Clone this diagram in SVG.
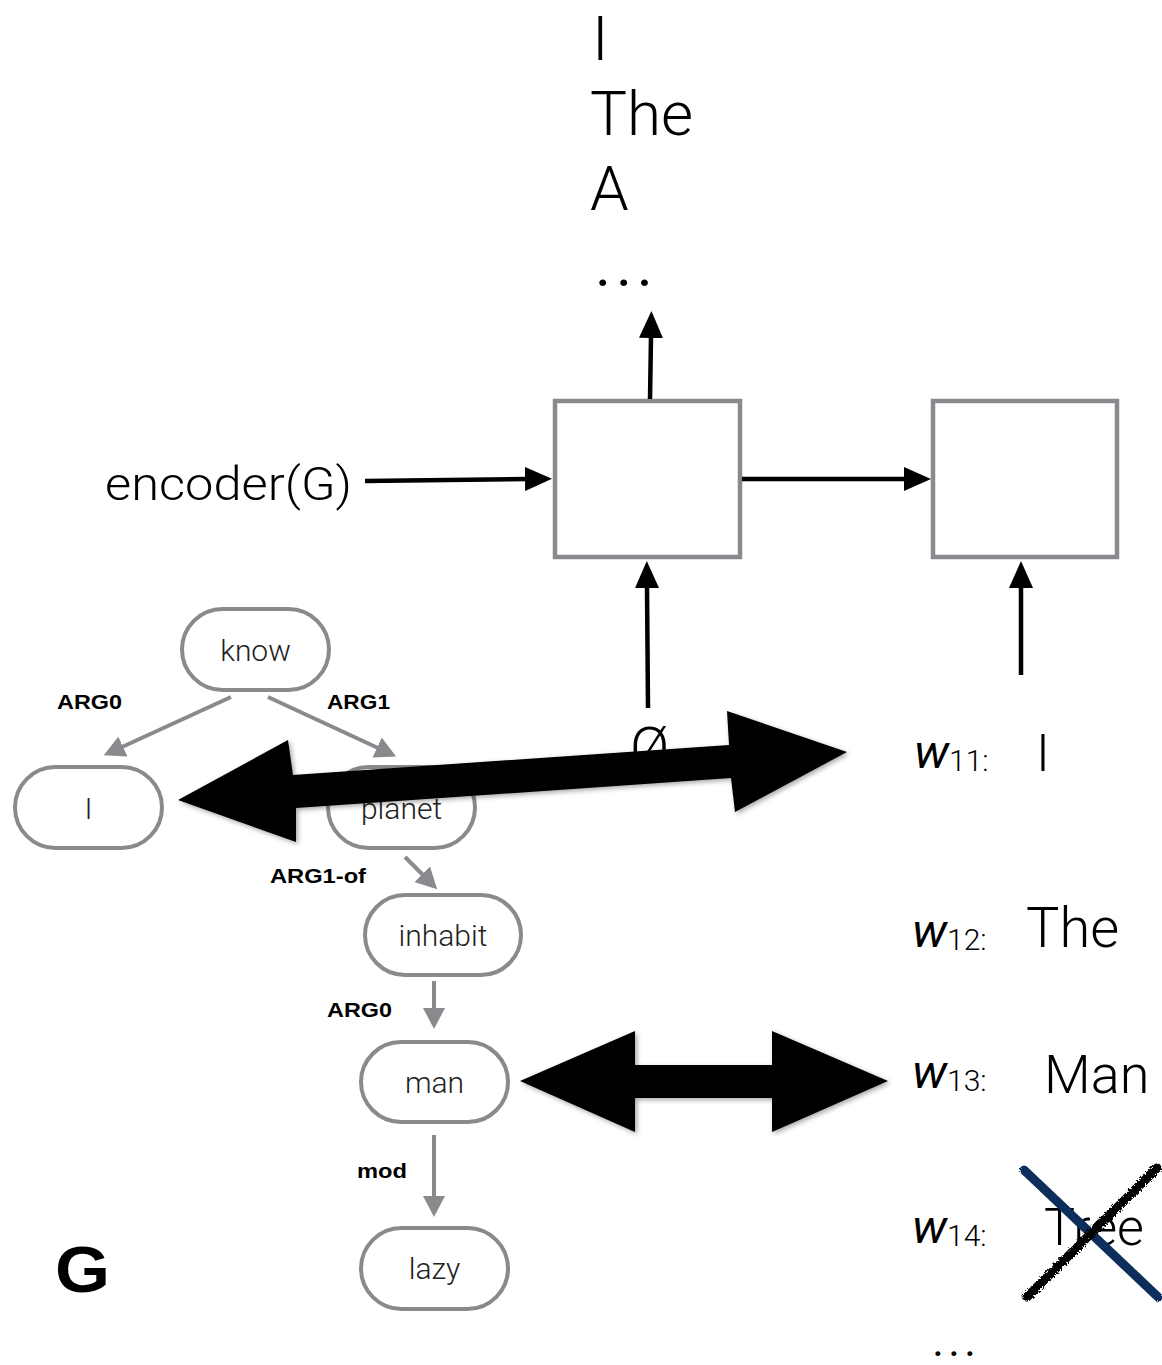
<svg xmlns="http://www.w3.org/2000/svg" width="1162" height="1365" viewBox="0 0 1162 1365">
<style>
.lt{font-family:Roboto,"Liberation Sans",sans-serif;font-weight:300;fill:#000}
.dots{font-family:Roboto,"Liberation Sans",sans-serif;font-weight:500;fill:#000}
.nd rect{fill:#fff;stroke:#888a8e;stroke-width:4}
.nd text{font-family:Roboto,"Liberation Sans",sans-serif;font-weight:300;font-size:30px;fill:#222;text-anchor:middle}
.box{fill:#fff;stroke:#888a8e;stroke-width:4.5}
.lbl{font-family:"Liberation Sans",Arial,sans-serif;font-weight:bold;font-size:21px;fill:#000}
.ge{stroke:#888a8e;stroke-width:4;fill:none}
.be{stroke:#000;stroke-width:4.5;fill:none}
.w{font-family:Roboto,"Liberation Sans",sans-serif;font-style:italic;font-size:48px;fill:#000}
.sub{font-family:Roboto,"Liberation Sans",sans-serif;font-weight:300;font-style:normal;font-size:30px}
</style>
<defs>
<marker id="ba" markerWidth="27" markerHeight="24" refX="1" refY="12" orient="auto" markerUnits="userSpaceOnUse"><path d="M0,0 L27,12 L0,24 z" fill="#000"/></marker>
<marker id="ga" markerWidth="21" markerHeight="22" refX="1" refY="11" orient="auto" markerUnits="userSpaceOnUse"><path d="M0,0 L21,11 L0,22 z" fill="#888a8e"/></marker>
<filter id="sh" x="-10%" y="-30%" width="120%" height="160%"><feDropShadow dx="2" dy="2" stdDeviation="2.5" flood-color="#000" flood-opacity="0.35"/></filter>
<filter id="rough" x="-10%" y="-10%" width="120%" height="120%"><feTurbulence type="fractalNoise" baseFrequency="0.6" numOctaves="2" seed="3"/><feDisplacementMap in="SourceGraphic" scale="5"/></filter>
</defs>

<g id="output-words">
<text class="lt" x="592" y="60" font-size="62">I</text>
<text class="lt" x="590" y="135" font-size="62">The</text>
<text class="lt" x="590" y="210" font-size="62">A</text>
<text class="dots" x="596" y="286" font-size="50" letter-spacing="7">...</text>
</g>

<g id="encoder-label"><text class="lt" x="105" y="500" font-size="46" textLength="247" lengthAdjust="spacingAndGlyphs">encoder(G)</text></g>

<g id="cell1"><rect class="box" x="555" y="401" width="185" height="156"/></g>
<g id="cell2"><rect class="box" x="933" y="401" width="184" height="156"/></g>

<g id="empty-symbol"><text class="lt" x="630" y="768" font-size="58">Ø</text></g>

<g id="node-know" class="nd"><rect x="182" y="609" width="147" height="81" rx="40.5"/><text x="255.5" y="661">know</text></g>
<g id="node-I" class="nd"><rect x="15" y="767" width="147" height="81" rx="40.5"/><text x="88.5" y="819">I</text></g>
<g id="node-planet" class="nd"><rect x="328" y="767" width="147" height="81" rx="40.5"/><text x="401.5" y="819">planet</text></g>
<g id="node-inhabit" class="nd"><rect x="365" y="895" width="156" height="80" rx="40"/><text x="443" y="946">inhabit</text></g>
<g id="node-man" class="nd"><rect x="361" y="1042" width="147" height="80" rx="40"/><text x="434.5" y="1093">man</text></g>
<g id="node-lazy" class="nd"><rect x="361" y="1228" width="147" height="81" rx="40.5"/><text x="434.5" y="1279">lazy</text></g>

<g id="edge-labels">
<text class="lbl" x="57" y="709" textLength="65" lengthAdjust="spacingAndGlyphs">ARG0</text>
<text class="lbl" x="327" y="709" textLength="63" lengthAdjust="spacingAndGlyphs">ARG1</text>
<text class="lbl" x="270" y="883" textLength="96" lengthAdjust="spacingAndGlyphs">ARG1-of</text>
<text class="lbl" x="327" y="1017" textLength="65" lengthAdjust="spacingAndGlyphs">ARG0</text>
<text class="lbl" x="357" y="1178" textLength="50" lengthAdjust="spacingAndGlyphs">mod</text>
</g>

<g id="graph-label"><text x="55" y="1292" font-family="'Liberation Sans',Arial,sans-serif" font-weight="bold" font-size="65" textLength="55" lengthAdjust="spacingAndGlyphs">G</text></g>

<g id="words">
<text class="w" x="914" y="768">w<tspan class="sub" dy="3">11:</tspan></text>
<text class="lt" x="1036" y="771" font-size="52">I</text>
<text class="w" x="912" y="947">w<tspan class="sub" dy="3">12:</tspan></text>
<text class="lt" x="1026" y="947" font-size="56">The</text>
<text class="w" x="912" y="1088">w<tspan class="sub" dy="3">13:</tspan></text>
<text class="lt" x="1044" y="1093" font-size="54">Man</text>
<text class="w" x="912" y="1243">w<tspan class="sub" dy="3">14:</tspan></text>
<text class="lt" x="1044" y="1245" font-size="52">Tree</text>
<text class="dots" x="933" y="1356" font-size="36" letter-spacing="6">...</text>
</g>

<g id="connectors">
<line class="ge" x1="231" y1="697" x2="122" y2="747" marker-end="url(#ga)"/>
<line class="ge" x1="268" y1="697" x2="378" y2="748" marker-end="url(#ga)"/>
<line class="ge" x1="405" y1="857" x2="423" y2="875" marker-end="url(#ga)"/>
<line class="ge" x1="434" y1="981" x2="434" y2="1009" marker-end="url(#ga)"/>
<line class="ge" x1="434" y1="1135" x2="434" y2="1197" marker-end="url(#ga)"/>
<line class="be" x1="365" y1="481" x2="526" y2="479" marker-end="url(#ba)"/>
<line class="be" x1="650" y1="399" x2="651" y2="337" marker-end="url(#ba)"/>
<line class="be" x1="742" y1="479" x2="905" y2="479" marker-end="url(#ba)"/>
<line class="be" x1="648" y1="708" x2="647" y2="587" marker-end="url(#ba)"/>
<line class="be" x1="1021" y1="675" x2="1021" y2="587" marker-end="url(#ba)"/>
<polygon id="align-I" filter="url(#sh)" fill="#000" points="178,800 288,740 293,775 729,745 727,711 847,752 735,812 731,778 296,808 296,842"/>
<polygon id="align-man" filter="url(#sh)" fill="#000" points="520,1081 635,1031 635,1065 772,1065 772,1031 888,1081 772,1132 772,1098 635,1098 635,1132"/>
</g>

<g id="strike" filter="url(#rough)">
<line x1="1024" y1="1170" x2="1158" y2="1297" stroke="#0d2d5a" stroke-width="9" stroke-linecap="round"/>
<line x1="1157" y1="1168" x2="1027" y2="1297" stroke="#000" stroke-width="9" stroke-linecap="round"/>
</g>
</svg>
